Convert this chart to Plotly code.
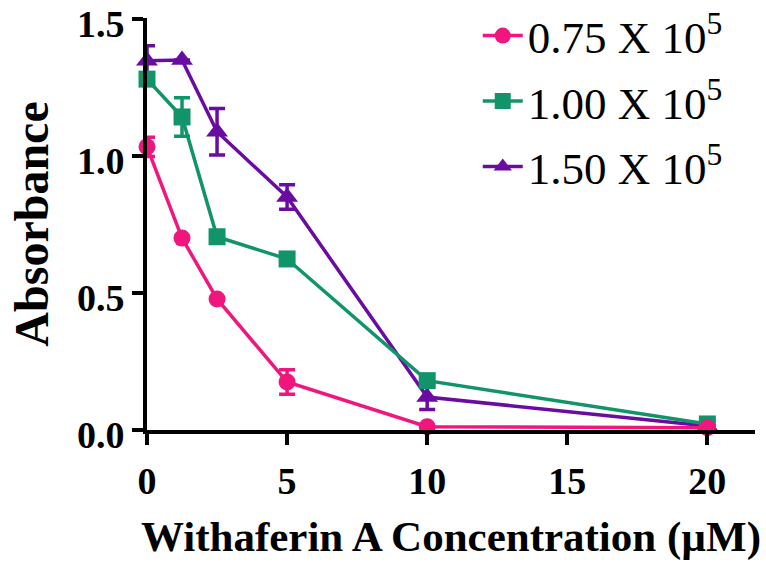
import plotly.graph_objects as go

conc = [0, 1.25, 2.5, 5, 10, 20]
names = ["0.75 X 10<sup>5</sup>", "1.00 X 10<sup>5</sup>", "1.50 X 10<sup>5</sup>"]
abs_075 = [1.033, 0.70, 0.478, 0.175, 0.012, 0.008]
err_075 = [0.035, 0.0, 0.0, 0.045, 0.0, 0.0]
abs_100 = [1.28, 1.142, 0.705, 0.624, 0.18, 0.022]
err_100 = [0.0, 0.07, 0.0, 0.02, 0.02, 0.0]
abs_150 = [1.347, 1.35, 1.088, 0.85, 0.12, 0.015]
err_150 = [0.055, 0.0, 0.085, 0.045, 0.045, 0.0]
y_ticks = [0, 0.5, 1.0, 1.5]
y_tick_text = ["0.0", "0.5", "1.0", "1.5"]
x_ticks = [0, 5, 10, 15, 20]

colors = ["#F0167D", "#11946A", "#6A0CA2"]
symbols = ["circle", "square", "triangle-up"]

fig = go.Figure()
series = [(abs_150, err_150, 2), (abs_100, err_100, 1), (abs_075, err_075, 0)]
for ys, es, i in series:
    fig.add_trace(go.Scatter(
        x=conc, y=ys, name=names[i], mode="lines+markers",
        legendgroup="g%d" % i, legendrank=i + 1,
        line=dict(color=colors[i], width=3.5),
        marker=dict(symbol=symbols[i], size=17 if i != 2 else 19, color=colors[i]),
        error_y=dict(type="data", array=es, visible=True, color=colors[i],
                     thickness=3.5, width=8),
        cliponaxis=False,
    ))

serif = "Liberation Serif"
fig.update_layout(
    width=766, height=563,
    margin=dict(l=147, r=11, t=18, b=133, autoexpand=False),
    paper_bgcolor="white", plot_bgcolor="white",
    showlegend=True,
    legend=dict(x=0.544, y=1.044, xanchor="left", yanchor="top",
                traceorder="grouped", tracegroupgap=4,
                font=dict(family=serif, size=45, color="black"),
                bgcolor="rgba(0,0,0,0)", itemwidth=40),
    xaxis=dict(range=[0, 21.7], tickvals=x_ticks,
               showline=True, linecolor="black", linewidth=4,
               ticks="outside", ticklen=11, tickwidth=4, tickcolor="black",
               showgrid=False, zeroline=False, ticklabelstandoff=3,
               tickfont=dict(family=serif, size=38, color="black", weight="bold"),
               title=dict(text="Withaferin A Concentration (\u00b5M)", standoff=21,
                          font=dict(family=serif, size=43, color="black", weight="bold"))),
    yaxis=dict(range=[0, 1.503], tickvals=y_ticks, ticktext=y_tick_text,
               showline=True, linecolor="black", linewidth=4,
               ticks="outside", ticklen=11, tickwidth=4, tickcolor="black",
               showgrid=False, zeroline=False, ticklabelstandoff=0,
               ticklabelshift=5, ticklabeloverflow="allow",
               tickfont=dict(family=serif, size=38, color="black", weight="bold"),
               title=dict(text="Absorbance", standoff=14,
                          font=dict(family=serif, size=48, color="black", weight="bold"))),
)

fig.write_html("out.html")
